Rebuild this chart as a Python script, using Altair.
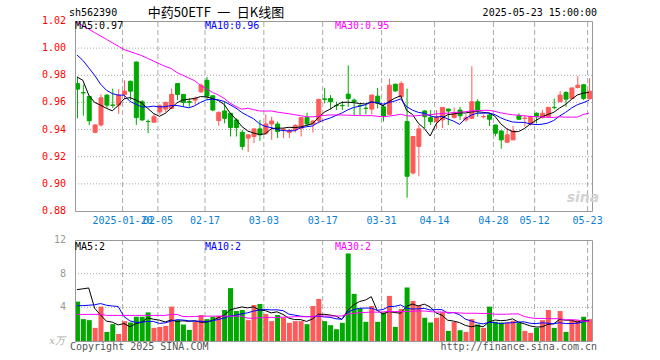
import altair as alt
import pandas as pd

# ---------------- data ----------------
opens = [0.9739, 0.9672, 0.9644, 0.9380, 0.9434, 0.9654, 0.9581, 0.9580, 0.9659, 0.9756,
         0.9898, 0.9605, 0.9460, 0.9454, 0.9530, 0.9551, 0.9556, 0.9739, 0.9659, 0.9606,
         0.9617, 0.9678, 0.9763, 0.9649, 0.9466, 0.9537, 0.9520, 0.9471, 0.9380, 0.9337,
         0.9349, 0.9405, 0.9373, 0.9441, 0.9441, 0.9400, 0.9380, 0.9398, 0.9410, 0.9488,
         0.9441, 0.9466, 0.9626, 0.9629, 0.9578, 0.9578, 0.9661, 0.9617, 0.9578, 0.9557,
         0.9551, 0.9646, 0.9568, 0.9512, 0.9734, 0.9641, 0.9459, 0.9080, 0.9276, 0.9537,
         0.9488, 0.9459, 0.9471, 0.9551, 0.9488, 0.9544, 0.9471, 0.9483, 0.9605, 0.9494,
         0.9507, 0.9434, 0.9390, 0.9307, 0.9324, 0.9502, 0.9482, 0.9441, 0.9520, 0.9488,
         0.9495, 0.9564, 0.9605, 0.9673, 0.9629, 0.9710, 0.9730, 0.9627]
highs = [0.9788, 0.9732, 0.9650, 0.9440, 0.9659, 0.9660, 0.9702, 0.9698, 0.9763, 0.9760,
         0.9900, 0.9617, 0.9474, 0.9520, 0.9585, 0.9605, 0.9702, 0.9740, 0.9660, 0.9630,
         0.9644, 0.9740, 0.9788, 0.9652, 0.9532, 0.9605, 0.9522, 0.9483, 0.9398, 0.9366,
         0.9405, 0.9471, 0.9512, 0.9495, 0.9459, 0.9410, 0.9405, 0.9441, 0.9488, 0.9524,
         0.9471, 0.9627, 0.9707, 0.9654, 0.9605, 0.9610, 0.9873, 0.9629, 0.9593, 0.9593,
         0.9659, 0.9707, 0.9580, 0.9776, 0.9739, 0.9756, 0.9702, 0.9349, 0.9434, 0.9544,
         0.9544, 0.9544, 0.9563, 0.9556, 0.9563, 0.9568, 0.9512, 0.9866, 0.9624, 0.9512,
         0.9520, 0.9434, 0.9390, 0.9410, 0.9427, 0.9520, 0.9507, 0.9502, 0.9527, 0.9544,
         0.9568, 0.9629, 0.9683, 0.9683, 0.9707, 0.9795, 0.9734, 0.9778]
lows = [0.9483, 0.9502, 0.9432, 0.9373, 0.9422, 0.9560, 0.9559, 0.9515, 0.9629, 0.9617,
        0.9434, 0.9463, 0.9373, 0.9454, 0.9510, 0.9530, 0.9550, 0.9617, 0.9570, 0.9568,
        0.9580, 0.9670, 0.9617, 0.9535, 0.9429, 0.9446, 0.9349, 0.9349, 0.9250, 0.9235,
        0.9300, 0.9317, 0.9361, 0.9324, 0.9337, 0.9337, 0.9337, 0.9378, 0.9349, 0.9422,
        0.9378, 0.9446, 0.9593, 0.9549, 0.9544, 0.9544, 0.9568, 0.9507, 0.9507, 0.9512,
        0.9512, 0.9556, 0.9459, 0.9507, 0.9678, 0.9641, 0.8898, 0.9068, 0.9056, 0.9410,
        0.9434, 0.9405, 0.9410, 0.9434, 0.9483, 0.9471, 0.9459, 0.9476, 0.9495, 0.9483,
        0.9427, 0.9349, 0.9259, 0.9300, 0.9324, 0.9471, 0.9422, 0.9429, 0.9446, 0.9483,
        0.9490, 0.9549, 0.9605, 0.9568, 0.9629, 0.9702, 0.9617, 0.9620]
closes = [0.9698, 0.9670, 0.9465, 0.9434, 0.9634, 0.9580, 0.9579, 0.9654, 0.9683, 0.9683,
          0.9488, 0.9471, 0.9459, 0.9495, 0.9575, 0.9600, 0.9659, 0.9659, 0.9600, 0.9600,
          0.9630, 0.9727, 0.9646, 0.9544, 0.9527, 0.9483, 0.9415, 0.9415, 0.9276, 0.9361,
          0.9405, 0.9361, 0.9441, 0.9463, 0.9385, 0.9402, 0.9393, 0.9429, 0.9488, 0.9441,
          0.9463, 0.9622, 0.9622, 0.9605, 0.9576, 0.9576, 0.9629, 0.9605, 0.9576, 0.9556,
          0.9654, 0.9593, 0.9500, 0.9727, 0.9685, 0.9739, 0.9056, 0.9349, 0.9405, 0.9495,
          0.9459, 0.9495, 0.9563, 0.9537, 0.9520, 0.9502, 0.9488, 0.9605, 0.9544, 0.9496,
          0.9476, 0.9373, 0.9324, 0.9361, 0.9390, 0.9476, 0.9484, 0.9495, 0.9495, 0.9520,
          0.9563, 0.9562, 0.9654, 0.9624, 0.9707, 0.9727, 0.9630, 0.9683]
volumes = [4.68, 2.6, 2.48, 1.56, 4.08, 1.08, 2.0, 0.84, 2.36, 2.2,
           2.88, 2.88, 3.4, 1.56, 1.68, 1.8, 4.08, 2.48, 1.96, 1.32,
           2.28, 3.08, 2.6, 2.88, 3.0, 3.68, 6.28, 3.56, 3.68, 2.48,
           4.28, 4.4, 3.2, 2.36, 3.08, 2.76, 2.16, 2.36, 2.36, 2.0,
           4.16, 5.0, 2.36, 1.88, 1.4, 2.16, 10.4, 5.6, 3.88, 2.28,
           4.16, 2.28, 3.4, 5.36, 1.68, 3.8, 6.36, 4.76, 4.2, 2.76,
           2.2, 2.76, 3.4, 1.2, 2.28, 1.28, 1.08, 2.6, 1.96, 1.56,
           4.08, 2.28, 2.2, 2.2, 2.4, 2.2, 1.2, 0.96, 1.56, 2.48,
           3.68, 1.56, 3.56, 1.08, 2.48, 2.48, 2.88, 2.6]

# moving-average values at the start of the window (history before the first candle)
ma5_head = [0.9788, 0.9763, 0.9654, 0.9600]
ma10_head = [0.995, 0.991, 0.9855, 0.980, 0.9735, 0.969, 0.9665, 0.9654, 0.9654]
ma30_head = [1.019, 1.0165, 1.014, 1.0115, 1.009, 1.0065, 1.004, 1.0015, 0.999, 0.9975,
             0.996, 0.9945, 0.9925, 0.9905, 0.9885, 0.9865, 0.985, 0.982, 0.980, 0.978,
             0.976, 0.9725, 0.970, 0.9675, 0.9655, 0.963, 0.9595, 0.957, 0.955]
vma5_head = [6.1, 6.2, 6.3, 3.9]
vma10_head = [4.2, 4.2, 4.25, 4.3, 4.45, 4.25, 4.16, 4.1, 2.9]
vma30_head = [3.16, 3.16, 3.16, 3.16, 3.16, 3.04, 3.04, 3.04, 3.04, 3.04,
              3.04, 3.04, 3.04, 3.04, 3.04, 3.04, 3.16, 3.16, 2.9, 2.9,
              2.9, 2.95, 2.95, 2.95, 2.95, 2.95, 2.95, 2.95, 2.95]

date_idx = [8, 14, 22, 32, 42, 52, 61, 71, 78, 87]
date_labels = ["2025-01-20", "02-05", "02-17", "03-03", "03-17", "03-31",
               "04-14", "04-28", "05-12", "05-23"]
price_ticks = [1.02, 1.00, 0.98, 0.96, 0.94, 0.92, 0.90, 0.88]
price_grid = [1.00, 0.98, 0.96, 0.94, 0.92, 0.90]
vol_ticks = [4, 8, 12]
vol_grid = [4, 8]

# ---------------- tables ----------------
n = len(closes)
cs = pd.Series(closes)
vs = pd.Series(volumes)
df = pd.DataFrame({"idx": list(range(n)), "open": opens, "high": highs,
                   "low": lows, "close": closes, "vol": volumes})
df["dir"] = ["up" if c >= o else "down" for o, c in zip(opens, closes)]
df["ma5"] = ma5_head + cs.rolling(5).mean().tolist()[len(ma5_head):]
df["ma10"] = ma10_head + cs.rolling(10).mean().tolist()[len(ma10_head):]
df["ma30"] = ma30_head + cs.rolling(30).mean().tolist()[len(ma30_head):]
df["vma5"] = vma5_head + vs.rolling(5).mean().tolist()[len(vma5_head):]
df["vma10"] = vma10_head + vs.rolling(10).mean().tolist()[len(vma10_head):]
df["vma30"] = vma30_head + vs.rolling(30).mean().tolist()[len(vma30_head):]

W, H = 527, 320
STEP = 6
X_MIN = -1 / 3
X_MAX = W / STEP - 1 / 3

MONO = "DejaVu Sans Mono"
RED = "#ff5a5a"
GREEN = "#00a800"
GRID = "#aaaaaa"

xs = alt.Scale(domain=[X_MIN, X_MAX], nice=False, zero=False)
ps = alt.Scale(domain=[0.88, 1.02], range=[190, 0], nice=False, zero=False)
vsc = alt.Scale(domain=[0, 12], range=[320, 219], nice=False, zero=False)
dir_scale = alt.Scale(domain=["up", "down"], range=[RED, GREEN])

base = alt.Chart(df)
X = alt.X("idx:Q", scale=xs, axis=None)

frame_df = pd.DataFrame({"x0": [X_MIN], "x1": [X_MAX], "p0": [0.88], "p1": [1.02],
                         "v0": [0], "v1": [12]})
frame_mark = dict(fill="white", fillOpacity=0, stroke="#999999", strokeWidth=1,
                  xOffset=0.5, x2Offset=0.5, yOffset=0.5, y2Offset=0.5)
price_frame = alt.Chart(frame_df).mark_rect(**frame_mark).encode(
    x=alt.X("x0:Q", scale=xs, axis=None), x2="x1:Q",
    y=alt.Y("p0:Q", scale=ps, axis=None), y2="p1:Q")
vol_frame = alt.Chart(frame_df).mark_rect(**frame_mark).encode(
    x=alt.X("x0:Q", scale=xs, axis=None), x2="x1:Q",
    y=alt.Y("v0:Q", scale=vsc, axis=None), y2="v1:Q")

pg_df = pd.DataFrame({"y": price_grid, "x0": X_MIN, "x1": X_MAX})
price_hgrid = alt.Chart(pg_df).mark_rule(color=GRID, strokeDash=[1, 2], strokeWidth=1).encode(
    x=alt.X("x0:Q", scale=xs, axis=None), x2="x1:Q",
    y=alt.Y("y:Q", scale=ps, axis=None))
vg_df = pd.DataFrame({"y": vol_grid, "x0": X_MIN, "x1": X_MAX})
vol_hgrid = alt.Chart(vg_df).mark_rule(color=GRID, strokeDash=[1, 2], strokeWidth=1).encode(
    x=alt.X("x0:Q", scale=xs, axis=None), x2="x1:Q",
    y=alt.Y("y:Q", scale=vsc, axis=None))

vd_df = pd.DataFrame({"x": [i - 1 / 3 for i in date_idx], "label": date_labels,
                      "p0": 0.88, "p1": 1.02, "v0": 0, "v1": 12})
price_vgrid = alt.Chart(vd_df).mark_rule(color=GRID, strokeDash=[5, 3], strokeWidth=1,
                                         xOffset=0.5).encode(
    x=alt.X("x:Q", scale=xs, axis=None),
    y=alt.Y("p0:Q", scale=ps, axis=None), y2="p1:Q")
vol_vgrid = alt.Chart(vd_df).mark_rule(color=GRID, strokeDash=[5, 3], strokeWidth=1,
                                       xOffset=0.5).encode(
    x=alt.X("x:Q", scale=xs, axis=None),
    y=alt.Y("v0:Q", scale=vsc, axis=None), y2="v1:Q")
date_text = alt.Chart(vd_df).mark_text(font=MONO, fontSize=10, color="#0a7fd4",
                                       align="center", baseline="middle", xOffset=0.5).encode(
    x=alt.X("x:Q", scale=xs, axis=None), y=alt.value(200), text="label:N")

vol_bars = base.mark_bar(size=5, xOffset=0.5).encode(
    x=X, y=alt.Y("vol:Q", scale=vsc, axis=None),
    color=alt.Color("dir:N", scale=dir_scale, legend=None))

wicks = base.mark_rule(strokeWidth=1, xOffset=0.5).encode(
    x=X, y=alt.Y("low:Q", scale=ps, axis=None), y2="high:Q",
    color=alt.Color("dir:N", scale=dir_scale, legend=None))

bodies = base.mark_bar(size=4, strokeWidth=1, xOffset=0.5).encode(
    x=X, y=alt.Y("open:Q", scale=ps, axis=None), y2="close:Q",
    fill=alt.Fill("dir:N", scale=dir_scale, legend=None),
    stroke=alt.Stroke("dir:N", scale=dir_scale, legend=None))


def ma_line(field, scale, color):
    return base.mark_line(color=color, strokeWidth=1).encode(
        x=X, y=alt.Y(f"{field}:Q", scale=scale, axis=None))


lines = [ma_line("ma5", ps, "#000000"), ma_line("ma10", ps, "#0000ff"),
         ma_line("ma30", ps, "#ff00ff"), ma_line("vma5", vsc, "#000000"),
         ma_line("vma10", vsc, "#0000ff"), ma_line("vma30", vsc, "#ff00ff")]

pt_df = pd.DataFrame({"p": price_ticks})
price_labels = alt.Chart(pt_df).mark_text(font=MONO, fontSize=10, color="#ff0000",
                                          align="right", baseline="middle").encode(
    x=alt.value(-4), y=alt.Y("p:Q", scale=ps, axis=None),
    text=alt.Text("p:Q", format=".2f"))
vt_df = pd.DataFrame({"v": vol_ticks})
vol_labels = alt.Chart(vt_df).mark_text(font=MONO, fontSize=10, color="#999999",
                                        align="right", baseline="middle").encode(
    x=alt.value(-4), y=alt.Y("v:Q", scale=vsc, axis=None), text=alt.Text("v:Q"))


def label(text, x, y, color, size=10, align="left", font=MONO, **kw):
    return alt.Chart(pd.DataFrame({"t": [text]})).mark_text(
        align=align, baseline="middle", font=font, fontSize=size, color=color, **kw
    ).encode(text="t:N", x=alt.value(x), y=alt.value(y))


texts = [
    label("sh562390", -1, -8, "#000000"),
    label("中药50ETF\u2002一\u2002日K线图", 146, -8, "#000000", size=13, align="center",
          font="Noto Sans CJK SC"),
    label("2025-05-23 15:00:00", W, -8, "#000000", align="right"),
    label("MA5:0.97", 5, 5, "#000000"),
    label("MA10:0.96", 135, 5, "#0000ff"),
    label("MA30:0.95", 265, 5, "#ff00ff"),
    label("MA5:2", 5, 226, "#000000"),
    label("MA10:2", 135, 226, "#0000ff"),
    label("MA30:2", 265, 226, "#ff00ff"),
    label("x万", -5, 320, "#aaaaaa", size=10, align="right", font="DejaVu Serif",
          fontStyle="italic"),
    label("Copyright 2025 SINA.COM", 0, 326, "#555555"),
    label("http://finance.sina.com.cn", W, 326, "#555555", align="right"),
    label("sina", 513, 177, "#d2d2d2", size=14, align="center", font="DejaVu Sans",
          fontStyle="italic", fontWeight="bold"),
]

chart = alt.layer(
    price_hgrid, vol_hgrid, price_vgrid, vol_vgrid,
    vol_bars, wicks, bodies, *lines,
    price_frame, vol_frame,
    price_labels, vol_labels, date_text, *texts,
).resolve_scale(
    y="independent"
).properties(
    width=W, height=H,
    padding={"left": 70, "top": 21, "right": 63, "bottom": 19},
    autosize=alt.AutoSizeParams(type="none"),
    background="white",
).configure_view(strokeWidth=0)

chart.save("out.html", embed_options={"renderer": "svg", "actions": False})
